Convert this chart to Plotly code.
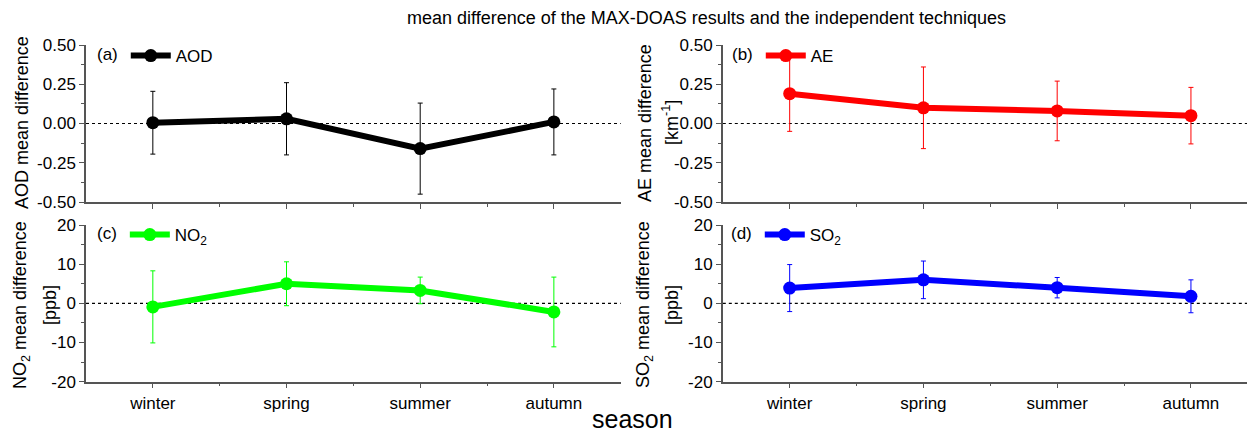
import plotly.graph_objects as go

# ---------------- data ----------------
seasons = ["winter", "spring", "summer", "autumn"]
season_pos = [1, 2, 3, 4]

aod_ticks = [-0.5, -0.25, 0.0, 0.25, 0.5]
aod_ticktext = ["-0.50", "-0.25", "0.00", "0.25", "0.50"]
ppb_ticks = [-20, -10, 0, 10, 20]
ppb_ticktext = ["-20", "-10", "0", "10", "20"]

aod = [0.005, 0.03, -0.16, 0.01]
aod_err = [0.20, 0.23, 0.29, 0.21]

ae = [0.19, 0.10, 0.08, 0.05]
ae_err = [0.24, 0.26, 0.19, 0.18]

no2 = [-0.9, 5.0, 3.3, -2.2]
no2_err = [9.2, 5.6, 3.4, 8.9]

so2 = [3.9, 6.0, 4.0, 1.8]
so2_err = [6.0, 4.8, 2.6, 4.2]

# ---------------- layout helpers ----------------
W, H = 1247, 434
FONT = "Liberation Sans, Arial, sans-serif"


def px(x):
    return x / W


def py(y):
    return 1 - y / H


LEFT_X = [px(86), px(620.7)]
RIGHT_X = [px(722.8), 1.0]
TOP_Y = [py(202), py(45)]
BOT_Y = [py(381.7), py(225)]

AX_COL = "#555555"

fig = go.Figure()


def add_series(y, err, color, name, xa, ya, leg):
    fig.add_trace(go.Scatter(
        x=season_pos, y=y, name=name, mode="lines+markers",
        xaxis=xa, yaxis=ya, legend=leg,
        line=dict(color=color, width=6),
        marker=dict(color=color, size=13),
        error_y=dict(type="data", array=err, visible=True,
                     color=color, thickness=1, width=2.5),
    ))


add_series(aod, aod_err, "#000000", "AOD", "x", "y", "legend")
add_series(ae, ae_err, "#ff0000", "AE", "x2", "y2", "legend2")
add_series(no2, no2_err, "#00ff00", "NO<sub>2</sub>", "x3", "y3", "legend3")
add_series(so2, so2_err, "#0000ff", "SO<sub>2</sub>", "x4", "y4", "legend4")


def xaxis(domain, anchor, labels, rng):
    return dict(
        domain=domain, anchor=anchor, range=rng, automargin=False,
        tickmode="array", tickvals=season_pos, ticktext=seasons,
        showticklabels=labels,
        showline=True, linecolor=AX_COL, linewidth=1.5,
        ticks="outside", ticklen=5, tickcolor=AX_COL, tickwidth=1,
        minor=dict(tickvals=[1.5, 2.5, 3.5], ticks="outside", ticklen=3,
                   tickcolor=AX_COL),
        showgrid=False, zeroline=False,
        tickfont=dict(family=FONT, size=17, color="#000"),
    )


def yaxis(domain, anchor, rng, tvals, ttext, minor_dtick):
    return dict(
        domain=domain, anchor=anchor, range=rng, automargin=False,
        tickmode="array", tickvals=tvals, ticktext=ttext,
        showline=True, linecolor=AX_COL, linewidth=1.5,
        ticks="outside", ticklen=5, tickcolor=AX_COL, tickwidth=1,
        minor=dict(tick0=rng[0], dtick=minor_dtick, ticks="outside",
                   ticklen=3, tickcolor=AX_COL),
        showgrid=False, zeroline=False,
        tickfont=dict(family=FONT, size=17, color="#000"),
    )


right_end = 4 + (W - 1191) / 133.6

fig.update_layout(
    xaxis=xaxis(LEFT_X, "y", False, [0.5, 4.5]),
    xaxis2=xaxis(RIGHT_X, "y2", False, [0.5, right_end]),
    xaxis3=xaxis(LEFT_X, "y3", True, [0.5, 4.5]),
    xaxis4=xaxis(RIGHT_X, "y4", True, [0.5, right_end]),
    yaxis=yaxis(TOP_Y, "x", [-0.5, 0.5], aod_ticks, aod_ticktext, 0.125),
    yaxis2=yaxis(TOP_Y, "x2", [-0.5, 0.5], aod_ticks, aod_ticktext, 0.125),
    yaxis3=yaxis(BOT_Y, "x3", [-20, 20], ppb_ticks, ppb_ticktext, 5),
    yaxis4=yaxis(BOT_Y, "x4", [-20, 20], ppb_ticks, ppb_ticktext, 5),
)

# zero reference lines
for xa, ya in [("x", "y"), ("x2", "y2"), ("x3", "y3"), ("x4", "y4")]:
    fig.add_shape(type="line", xref=f"{xa} domain", yref=ya,
                  x0=0, x1=1, y0=0, y1=0,
                  line=dict(color="#000", width=1.2, dash="3px,3px"),
                  layer="below")


def legend(x, y, title):
    return dict(
        x=x, y=y, xanchor="left", yanchor="top",
        bgcolor="rgba(0,0,0,0)", borderwidth=0,
        font=dict(family=FONT, size=17, color="#000"),
        title=dict(text=title, side="left",
                   font=dict(family=FONT, size=17, color="#000")),
        itemwidth=40, tracegroupgap=0,
    )


fig.update_layout(
    legend=legend(px(95), py(38), "(a)"),
    legend2=legend(px(730), py(38), "(b)"),
    legend3=legend(px(95), py(217), "(c)"),
    legend4=legend(px(729), py(217), "(d)"),
)

ann = []


def ytitle(x, y, text):
    ann.append(dict(text=text, x=px(x), y=py(y), xref="paper", yref="paper",
                    textangle=-90, showarrow=False, xanchor="center",
                    yanchor="middle",
                    font=dict(family=FONT, size=18, color="#000")))


ytitle(22, 123, "AOD mean difference")
ytitle(645, 123, "AE mean difference")
ytitle(671, 123, "[km<sup>-1</sup>]")
ytitle(21, 305, "NO<sub>2</sub> mean difference")
ytitle(50, 305, "[ppb]")
ytitle(644, 305, "SO<sub>2</sub> mean difference")
ytitle(672, 305, "[ppb]")

ann.append(dict(text="mean difference of the MAX-DOAS results and the independent techniques",
                x=px(707), y=py(18), xref="paper", yref="paper",
                showarrow=False, xanchor="center", yanchor="middle",
                font=dict(family=FONT, size=18, color="#000")))
ann.append(dict(text="season", x=px(632), y=0, xref="paper", yref="paper",
                showarrow=False, xanchor="center", yanchor="bottom",
                borderpad=0,
                font=dict(family=FONT, size=25, color="#000")))

fig.update_layout(
    annotations=ann,
    width=W, height=H,
    margin=dict(l=0, r=0, t=0, b=0),
    paper_bgcolor="white", plot_bgcolor="white",
    showlegend=True,
)

fig.write_html("out.html")
